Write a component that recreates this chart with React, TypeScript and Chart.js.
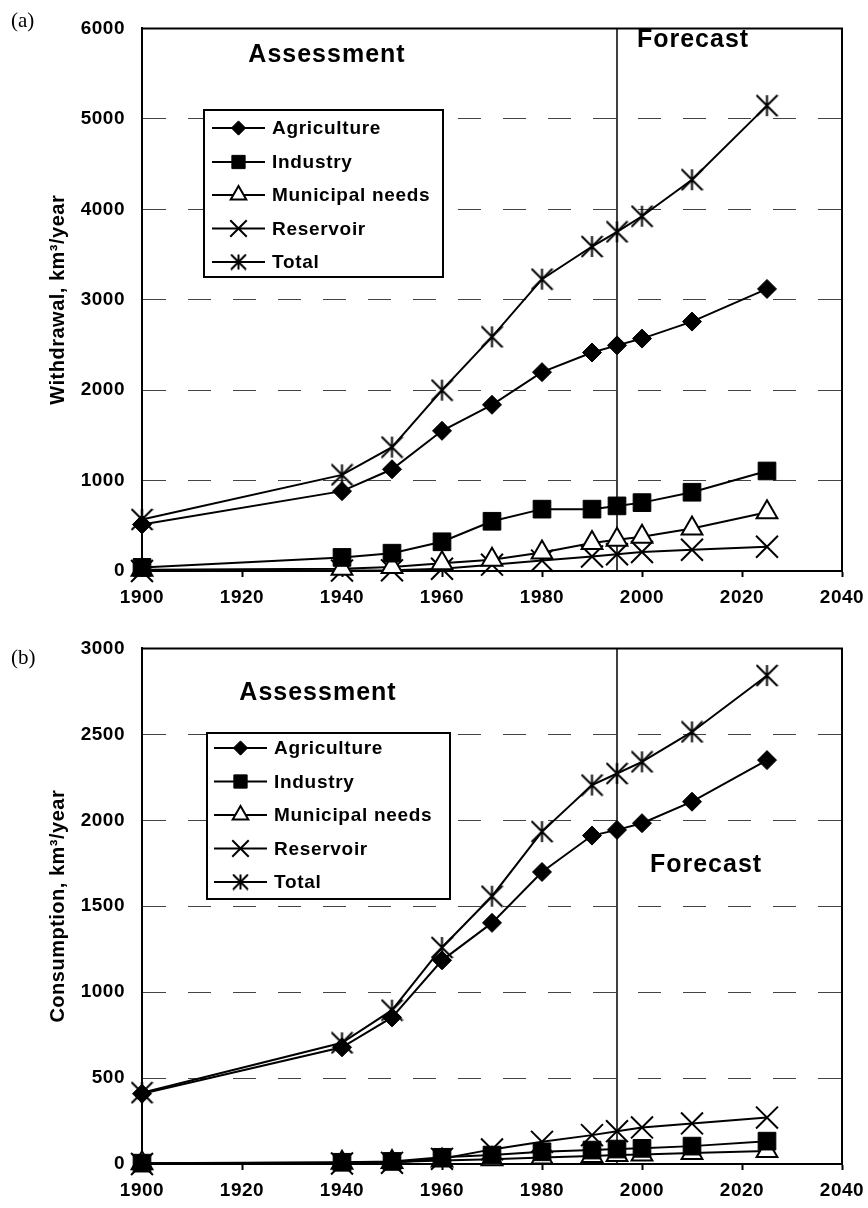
import React, { useEffect, useRef } from 'react';
import { Chart, registerables, PointElement } from 'chart.js';

Chart.register(...registerables);

// ---------- data ----------
const years = [1900, 1940, 1950, 1960, 1970, 1980, 1990, 1995, 2000, 2010, 2025];
const seriesNames = ['Agriculture', 'Industry', 'Municipal needs', 'Reservoir', 'Total'];

const withdrawalAgriculture = [515, 883, 1125, 1550, 1838, 2199, 2416, 2495, 2570, 2758, 3119];
const withdrawalIndustry = [40, 150, 197, 323, 550, 684, 684, 720, 756, 871, 1106];
const withdrawalMunicipal = [15, 25, 45, 85, 125, 205, 310, 345, 380, 470, 650];
const withdrawalReservoir = [0, 5, 7, 25, 70, 115, 160, 185, 210, 235, 268];
const withdrawalTotal = [570, 1063, 1370, 2000, 2589, 3227, 3588, 3750, 3923, 4327, 5146];

const consumptionAgriculture = [409, 679, 853, 1185, 1403, 1699, 1911, 1944, 1983, 2108, 2350];
const consumptionIndustry = [5, 10, 15, 39, 52, 71, 81, 87, 91, 104, 133];
const consumptionMunicipal = [4, 8, 12, 20, 28, 38, 47, 52, 56, 64, 75];
const consumptionReservoir = [0, 3, 7, 30, 85, 129, 168, 191, 213, 236, 270];
const consumptionTotal = [415, 705, 895, 1260, 1558, 1934, 2205, 2272, 2340, 2514, 2842];

const xMin = 1900;
const xMax = 2040;
const xStep = 20;
const withdrawalMax = 6000;
const withdrawalStep = 1000;
const consumptionMax = 3000;
const consumptionStep = 500;
const forecastYear = 1995;

const withdrawalTitle = 'Withdrawal, km³/year';
const consumptionTitle = 'Consumption, km³/year';

// ---------- styling ----------
const FONT = '"Liberation Sans", Arial, Helvetica, sans-serif';

function makeAsterisk(size: number, lw: number): HTMLCanvasElement {
  const c = document.createElement('canvas');
  c.width = size;
  c.height = size;
  const g = c.getContext('2d')!;
  const m = size / 2;
  const h = size / 2 - 1;
  g.strokeStyle = '#000';
  g.lineWidth = lw;
  g.beginPath();
  g.moveTo(m, m - h);
  g.lineTo(m, m + h);
  g.moveTo(m - h, m - h);
  g.lineTo(m + h, m + h);
  g.moveTo(m + h, m - h);
  g.lineTo(m - h, m + h);
  g.stroke();
  return c;
}

function markerStyles(legend: boolean) {
  const s = legend ? 0.75 : 1;
  return [
    { pointStyle: 'rectRot', radius: 9.5 * s, bg: '#000', bw: 1 },
    { pointStyle: 'rect', radius: 12.5 * s, bg: '#000', bw: 1 },
    { pointStyle: 'triangle', radius: 12 * s, bg: '#fff', bw: 2 },
    { pointStyle: 'crossRot', radius: 15.5 * s, bg: '#000', bw: 2 },
    { pointStyle: makeAsterisk(legend ? 17 : 23, 2), radius: 11 * s, bg: '#000', bw: 2 },
  ];
}

type Panel = {
  tag: string;
  tagY: number;
  assess: [number, number];
  forecast: [number, number];
  legend: { left: number; top: number; right: number; bottom: number; rows: number[]; x0: number; x1: number; textX: number };
};

function panelPlugin(p: Panel) {
  return {
    id: 'panelDecor',
    beforeDraw(chart: any) {
      chart.ctx.letterSpacing = '0.5px';
    },
    beforeDatasetsDraw(chart: any) {
      const { ctx, chartArea: a, scales } = chart;
      const x = scales.x.getPixelForValue(forecastYear);
      ctx.save();
      ctx.strokeStyle = '#000';
      ctx.lineWidth = 1.5;
      ctx.beginPath();
      ctx.moveTo(x, a.top);
      ctx.lineTo(x, a.bottom);
      ctx.stroke();
      ctx.lineWidth = 2;
      ctx.beginPath();
      ctx.moveTo(a.left - 1, a.top);
      ctx.lineTo(a.right, a.top);
      ctx.lineTo(a.right, a.bottom + 1);
      ctx.stroke();
      ctx.restore();
    },
    afterDraw(chart: any) {
      const { ctx } = chart;
      ctx.save();
      ctx.letterSpacing = '0px';
      ctx.fillStyle = '#000';
      ctx.textBaseline = 'middle';
      ctx.textAlign = 'left';
      ctx.font = '21px "Liberation Serif", "Times New Roman", serif';
      ctx.fillText(p.tag, 11, p.tagY);

      ctx.letterSpacing = '1px';
      ctx.textAlign = 'center';
      ctx.font = `bold 25px ${FONT}`;
      ctx.fillText('Assessment', p.assess[0], p.assess[1]);
      ctx.fillText('Forecast', p.forecast[0], p.forecast[1]);

      const L = p.legend;
      ctx.fillStyle = '#fff';
      ctx.fillRect(L.left, L.top, L.right - L.left, L.bottom - L.top);
      ctx.strokeStyle = '#000';
      ctx.lineWidth = 2;
      ctx.strokeRect(L.left, L.top, L.right - L.left, L.bottom - L.top);
      const ls = markerStyles(true);
      const big = { left: -1e5, top: -1e5, right: 1e5, bottom: 1e5 };
      chart.data.datasets.forEach((ds: any, i: number) => {
        const y = L.rows[i];
        ctx.strokeStyle = '#000';
        ctx.lineWidth = 2;
        ctx.beginPath();
        ctx.moveTo(L.x0, y);
        ctx.lineTo(L.x1, y);
        ctx.stroke();
        const st = ls[i];
        const pt: any = new (PointElement as any)({
          x: (L.x0 + L.x1) / 2,
          y,
          options: {
            pointStyle: st.pointStyle,
            radius: st.radius,
            borderWidth: st.bw,
            backgroundColor: st.bg,
            borderColor: '#000',
            rotation: 0,
          },
        });
        pt.draw(ctx, big);
        ctx.fillStyle = '#000';
        ctx.letterSpacing = '0.7px';
        ctx.font = `bold 19px ${FONT}`;
        ctx.textAlign = 'left';
        ctx.textBaseline = 'middle';
        ctx.fillText(ds.label, L.textX, y + 1);
      });
      ctx.restore();
    },
  };
}

function buildChart(
  canvas: HTMLCanvasElement,
  values: number[][],
  yMax: number,
  yStep: number,
  title: string,
  padTop: number,
  xAxisHeight: number,
  panel: Panel
) {
  const styles = markerStyles(false);
  const datasets = values.map((vals, i) => ({
    label: seriesNames[i],
    data: years.map((yr, k) => ({ x: yr, y: vals[k] })),
    borderColor: '#000',
    borderWidth: 2,
    backgroundColor: '#000',
    pointStyle: styles[i].pointStyle,
    pointRadius: styles[i].radius,
    pointBorderWidth: styles[i].bw,
    pointBackgroundColor: styles[i].bg,
    pointBorderColor: '#000',
    tension: 0,
    fill: false,
    clip: false,
  }));
  const tickFont = { family: FONT, size: 19, weight: 'bold' as const };
  return new Chart(canvas, {
    type: 'line',
    data: { datasets },
    options: {
      animation: false,
      responsive: false,
      maintainAspectRatio: false,
      devicePixelRatio: 1,
      layout: { padding: { top: padTop, right: 26, bottom: 0, left: 0 } },
      plugins: { legend: { display: false }, tooltip: { enabled: false } },
      scales: {
        x: {
          type: 'linear',
          min: xMin,
          max: xMax,
          ticks: { stepSize: xStep, font: tickFont, color: '#000', padding: 9, callback: (v: any) => String(v) },
          grid: { drawOnChartArea: false, drawTicks: true, tickLength: 6, tickColor: '#000', tickWidth: 2 },
          border: { color: '#000', width: 2 },
          afterFit: (s: any) => {
            s.height = xAxisHeight;
            s.paddingLeft = 0;
            s.paddingRight = 0;
          },
        },
        y: {
          min: 0,
          max: yMax,
          ticks: { stepSize: yStep, font: tickFont, color: '#000', padding: 17, callback: (v: any) => String(v) },
          grid: { color: '#444', lineWidth: 1, drawTicks: false },
          border: { color: '#000', width: 2, dash: [23, 22] },
          title: {
            display: true,
            text: title,
            color: '#000',
            font: { family: FONT, size: 20, weight: 'bold' },
            padding: { top: 46, bottom: 0 },
          },
          afterFit: (s: any) => {
            s.width = 142;
          },
        },
      },
    },
    plugins: [panelPlugin(panel)],
  } as any);
}

export default function App() {
  const refA = useRef<HTMLCanvasElement>(null);
  const refB = useRef<HTMLCanvasElement>(null);

  useEffect(() => {
    const a = buildChart(
      refA.current!,
      [withdrawalAgriculture, withdrawalIndustry, withdrawalMunicipal, withdrawalReservoir, withdrawalTotal],
      withdrawalMax,
      withdrawalStep,
      withdrawalTitle,
      17,
      49,
      {
        tag: '(a)',
        tagY: 21,
        assess: [327, 55],
        forecast: [693, 40],
        legend: { left: 204, top: 110, right: 443, bottom: 277, rows: [128, 162, 195, 228.5, 262], x0: 212, x1: 265, textX: 272 },
      }
    );
    const b = buildChart(
      refB.current!,
      [consumptionAgriculture, consumptionIndustry, consumptionMunicipal, consumptionReservoir, consumptionTotal],
      consumptionMax,
      consumptionStep,
      consumptionTitle,
      26,
      44,
      {
        tag: '(b)',
        tagY: 38,
        assess: [318, 73],
        forecast: [706, 245],
        legend: { left: 207, top: 113, right: 450, bottom: 279, rows: [128, 161.5, 195, 228.5, 262], x0: 214, x1: 267, textX: 274 },
      }
    );
    return () => {
      a.destroy();
      b.destroy();
    };
  }, []);

  return (
    <div style={{ position: 'absolute', left: 0, top: 0, width: 868, height: 1208, background: '#fff' }}>
      <canvas
        ref={refA}
        width={868}
        height={620}
        style={{ position: 'absolute', left: 0, top: 0, width: 868, height: 620 }}
      />
      <canvas
        ref={refB}
        width={868}
        height={588}
        style={{ position: 'absolute', left: 0, top: 620, width: 868, height: 588 }}
      />
    </div>
  );
}
